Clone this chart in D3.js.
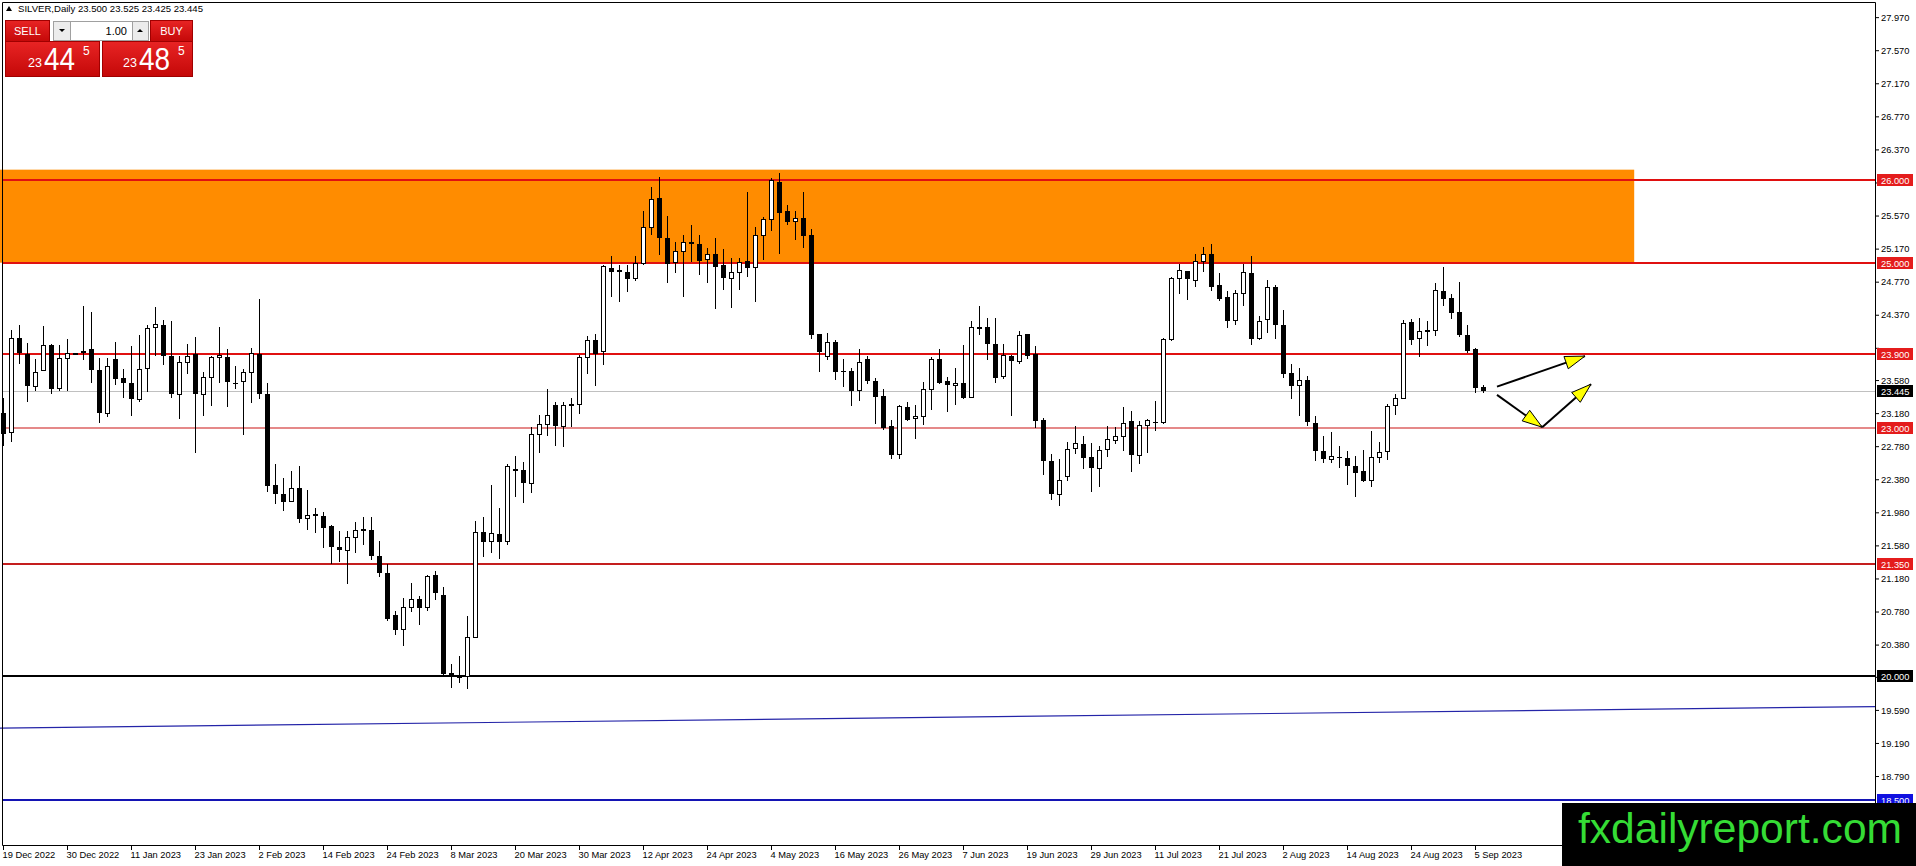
<!DOCTYPE html>
<html>
<head>
<meta charset="utf-8">
<script src="https://cdn.jsdelivr.net/npm/d3@7"></script>
<style>
  body { margin: 0; background: #fff; overflow: hidden; }
  svg { display: block; font-family: "Liberation Sans", Arial, sans-serif; }
</style>
</head>
<body>
<div id="chart"></div>
<script>
// SILVER daily, 19 Dec 2022 .. 6 Sep 2023 (one entry per bar)
const opens = [23.18,22.95,24.09,23.9,23.5,23.69,24.0,23.48,23.84,23.9,23.93,23.95,23.7,23.18,23.83,23.6,23.55,23.35,23.72,24.21,
  24.25,23.875,23.41,23.79,23.89,23.4,23.61,23.85,23.86,23.55,23.56,23.67,23.9,23.41,22.31,22.2,22.11,22.27,21.91,21.955,
  21.94,21.81,21.56,21.52,21.68,21.77,21.77,21.45,21.25,20.74,20.56,20.83,20.93,20.83,21.225,20.98,20.04,20.0,20.0,20.47,
  21.74,21.63,21.72,21.63,22.5,22.49,22.33,22.92,23.04,23.28,23.02,23.28,23.29,23.85,24.06,23.93,24.94,24.89,24.89,24.81,
  24.99,25.43,25.78,25.3,25.0,25.13,25.25,25.225,25.04,25.11,24.97,24.81,24.88,25.02,24.94,25.33,25.52,25.98,25.63,25.5,
  25.54,25.33,24.14,23.86,24.04,23.69,23.69,23.45,23.83,23.57,23.39,23.02,22.68,23.25,23.11,23.14,23.47,23.83,23.57,23.51,
  23.54,23.37,24.22,24.225,24.02,23.62,23.875,23.81,24.14,23.9,23.1,22.6,22.2,22.41,22.75,22.81,22.65,22.51,22.74,22.85,
  22.9,23.08,22.67,23.03,23.07,23.07,24.07,24.81,24.9,24.79,25.02,25.1,24.725,24.58,24.3,24.63,24.88,24.08,24.31,24.7,
  24.25,23.67,23.52,23.58,23.06,22.725,22.62,22.655,22.64,22.54,22.475,22.37,22.645,22.71,23.27,23.36,24.28,24.08,24.175,24.175,
  24.66,24.57,24.4,24.13,23.95,23.5];
const highs = [23.36,24.19,24.24,24.03,23.84,24.23,24.02,24.0,24.08,23.91,24.48,24.4,23.85,23.85,24.04,23.71,23.99,24.12,24.25,24.46,
  24.31,24.29,23.875,24.02,24.1,23.68,23.87,24.225,23.96,23.75,23.71,23.97,24.56,23.54,22.56,22.4,22.475,22.54,22.25,22.03,
  21.98,21.83,21.75,21.76,21.86,21.92,21.92,21.63,21.35,20.79,20.94,21.12,20.97,21.22,21.27,21.08,20.15,20.24,20.73,21.87,
  21.925,22.31,22.03,22.57,22.66,22.59,23.01,23.16,23.47,23.31,23.32,23.36,23.88,24.11,24.14,24.975,25.08,24.975,24.975,25.08,
  25.62,25.92,26.04,25.56,25.25,25.33,25.45,25.34,25.18,25.3,25.17,25.06,25.06,25.86,25.43,25.55,26.02,26.08,25.7,25.63,
  25.86,25.41,24.14,24.15,24.06,23.83,23.73,23.95,23.87,23.6,23.475,23.1,23.28,23.32,23.28,23.56,23.86,23.96,23.62,23.725,
  24.0,24.3,24.47,24.33,24.33,24.02,23.88,24.17,24.14,23.99,23.12,22.69,22.63,22.83,23.03,22.9,22.82,22.78,23.02,23.01,
  23.25,23.2,23.08,23.11,23.33,24.09,24.83,24.98,24.9,25.11,25.19,25.225,24.87,24.66,24.675,24.98,25.08,24.36,24.79,24.725,
  24.43,23.78,23.73,23.63,23.14,22.9,22.95,22.78,22.72,22.66,22.73,22.96,22.83,23.29,23.41,24.31,24.32,24.33,24.3,24.75,
  24.95,24.625,24.77,24.25,23.97,23.525];
const lows = [22.78,22.83,23.78,23.31,23.45,23.69,23.41,23.45,23.45,23.89,23.82,23.54,23.06,23.13,23.52,23.36,23.15,23.31,23.44,23.87,
  23.76,23.36,23.11,23.65,22.7,23.15,23.27,23.54,23.25,23.47,22.91,23.3,23.35,22.23,22.08,21.99,22.11,21.85,21.77,21.725,
  21.55,21.36,21.38,21.11,21.49,21.58,21.4,21.2,20.67,20.5,20.36,20.78,20.62,20.79,20.925,19.99,19.86,19.92,19.84,20.47,
  21.44,21.49,21.41,21.59,22.16,22.09,22.21,22.7,22.9,22.78,22.77,23.01,23.175,23.65,23.51,23.76,24.58,24.52,24.65,24.78,
  24.975,25.33,25.09,24.76,24.875,24.58,25.01,24.85,24.75,24.44,24.67,24.45,24.67,24.83,24.53,25.03,25.38,25.11,25.45,25.27,
  25.175,24.08,23.675,23.82,23.58,23.49,23.27,23.33,23.53,23.05,22.97,22.63,22.625,23.09,22.87,23.04,23.22,23.53,23.19,23.28,
  23.35,23.36,24.13,23.82,23.54,23.59,23.15,23.78,23.83,23.0,22.43,22.13,22.06,22.36,22.69,22.51,22.225,22.29,22.65,22.81,
  22.72,22.47,22.56,22.7,22.96,23.05,24.05,24.62,24.55,24.71,24.89,24.66,24.54,24.21,24.24,24.47,24.0,24.06,24.15,24.08,
  23.6,23.35,23.15,23.02,22.6,22.58,22.58,22.52,22.31,22.16,22.35,22.29,22.58,22.61,23.16,23.35,24.0,23.86,23.99,24.11,
  24.475,24.32,24.1,23.91,23.42,23.425];
const closes = [22.925,24.08,23.91,23.51,23.67,24.0,23.475,23.84,23.9,23.9,23.93,23.7,23.18,23.75,23.59,23.54,23.35,23.71,24.2,24.25,
  23.87,23.41,23.79,23.87,23.41,23.61,23.85,23.875,23.56,23.53,23.67,23.9,23.41,22.3,22.2,22.1,22.27,21.9,21.94,21.94,
  21.79,21.56,21.52,21.67,21.76,21.77,21.45,21.25,20.69,20.56,20.83,20.93,20.82,21.2,21.0,20.03,19.99,20.0,20.46,21.74,
  21.62,21.72,21.62,22.54,22.48,22.33,22.925,23.04,23.15,23.02,23.27,23.28,23.85,24.06,23.9,24.95,24.89,24.91,24.8,24.99,
  25.43,25.76,25.3,24.98,25.13,25.24,25.225,25.02,25.1,24.95,24.81,24.88,25.0,24.94,25.33,25.52,25.99,25.6,25.49,25.54,
  25.32,24.125,23.92,24.03,23.675,23.68,23.45,23.79,23.57,23.38,23.0,22.67,23.26,23.1,23.14,23.47,23.83,23.54,23.52,23.54,
  23.36,24.21,24.22,24.02,23.6,23.875,23.81,24.125,23.875,23.08,22.6,22.2,22.37,22.74,22.81,22.64,22.52,22.725,22.86,22.9,
  23.06,22.67,23.03,23.09,23.06,24.07,24.81,24.9,24.8,25.01,25.1,24.71,24.56,24.29,24.625,24.88,24.08,24.29,24.7,24.25,
  23.655,23.51,23.57,23.07,22.725,22.625,22.655,22.64,22.54,22.45,22.36,22.645,22.7,23.26,23.36,24.27,24.06,24.17,24.175,24.66,
  24.56,24.39,24.12,23.93,23.48,23.445];

const dateLabels = ["19 Dec 2022","30 Dec 2022","11 Jan 2023","23 Jan 2023","2 Feb 2023","14 Feb 2023","24 Feb 2023",
  "8 Mar 2023","20 Mar 2023","30 Mar 2023","12 Apr 2023","24 Apr 2023","4 May 2023","16 May 2023","26 May 2023",
  "7 Jun 2023","19 Jun 2023","29 Jun 2023","11 Jul 2023","21 Jul 2023","2 Aug 2023","14 Aug 2023","24 Aug 2023","5 Sep 2023"];
const priceTicks = [27.97,27.57,27.17,26.77,26.37,25.97,25.57,25.17,24.77,24.37,23.97,23.58,23.18,22.78,22.38,
  21.98,21.58,21.18,20.78,20.38,19.99,19.59,19.19,18.79,18.39];

// drawn objects (bar index, price)
const levels = [26.0, 25.0, 23.9, 23.0, 21.35, 20.0, 18.5];
const zone = [[-0.4, 26.125], [203.9, 25.0]];
const trendLine = [[-0.4, 19.37], [234, 19.63]];
const arrowUp = [[186.75, 23.5], [197.75, 23.87]];
const arrowDown = [[186.75, 23.4], [192.4, 23.01]];
const arrowBack = [[192.4, 23.01], [198.5, 23.53]];

const W = 1916, H = 866;
const axisX = 1875, axisY = 845;

const x = d3.scaleLinear().domain([0, 185]).range([3, 1483]);
const y = d3.scaleLinear().domain([18.5, 26]).range([800, 180]);

const svg = d3.select("#chart").append("svg")
  .attr("width", W).attr("height", H);

svg.append("rect").attr("width", W).attr("height", H).attr("fill", "#fff");

// orange zone
svg.append("rect")
  .attr("x", x(zone[0][0])).attr("y", y(zone[0][1]))
  .attr("width", x(zone[1][0]) - x(zone[0][0]))
  .attr("height", y(zone[1][1]) - y(zone[0][1]))
  .attr("fill", "#ff8c00");

// current price line
let last = closes[closes.length - 1];
svg.append("line")
  .attr("x1", 2).attr("x2", axisX)
  .attr("y1", Math.round(y(last)) + 0.5).attr("y2", Math.round(y(last)) + 0.5)
  .attr("stroke", "#c0c0c0");

// horizontal levels
let levelStyle = v => {
  if (v == 20) return { c: "#000", w: 2 };
  if (v == 18.5) return { c: "#1414b4", w: 2 };
  if (v == 23) return { c: "#cc1414", w: 1.2 };
  if (v == 21.35) return { c: "#c41e1e", w: 2 };
  return { c: "#e01010", w: 2 };
};
svg.append("g").selectAll("line")
  .data(levels)
  .enter()
  .append("line")
  .attr("x1", 2).attr("x2", axisX)
  .attr("y1", d => Math.round(y(d))).attr("y2", d => Math.round(y(d)))
  .attr("stroke", d => levelStyle(d).c)
  .attr("stroke-width", d => levelStyle(d).w);

// trend line
svg.append("line")
  .attr("x1", x(trendLine[0][0])).attr("y1", y(trendLine[0][1]))
  .attr("x2", x(trendLine[1][0])).attr("y2", y(trendLine[1][1]))
  .attr("stroke", "#2424a8").attr("stroke-width", 1.2);

// candles
const idx = d3.range(opens.length);
const cg = svg.append("g").attr("shape-rendering", "crispEdges");
cg.selectAll("line")
  .data(idx)
  .enter()
  .append("line")
  .attr("x1", i => Math.round(x(i)) + 0.5)
  .attr("x2", i => Math.round(x(i)) + 0.5)
  .attr("y1", i => y(highs[i]))
  .attr("y2", i => y(lows[i]))
  .attr("stroke", "#000");
cg.selectAll("rect")
  .data(idx)
  .enter()
  .append("rect")
  .attr("x", i => Math.round(x(i)) - (closes[i] >= opens[i] ? 1.5 : 2))
  .attr("width", i => (closes[i] >= opens[i] ? 4 : 5))
  .attr("y", i => y(Math.max(opens[i], closes[i])))
  .attr("height", i => Math.max(1, Math.abs(y(opens[i]) - y(closes[i]))))
  .attr("fill", i => (closes[i] >= opens[i] ? "#fff" : "#000"))
  .attr("stroke", i => (closes[i] >= opens[i] ? "#000" : "none"));

// arrows
let drawArrow = (pts, head) => {
  let x1 = x(pts[0][0]), y1 = y(pts[0][1]), x2 = x(pts[1][0]), y2 = y(pts[1][1]);
  svg.append("line").attr("x1", x1).attr("y1", y1).attr("x2", x2).attr("y2", y2)
    .attr("stroke", "#000").attr("stroke-width", 2);
  if (!head) return;
  let a = Math.atan2(y2 - y1, x2 - x1);
  let len = 20, wd = 6.5;
  let bx = x2 - len * Math.cos(a), by = y2 - len * Math.sin(a);
  let p = [[x2, y2],
    [bx + wd * Math.sin(a), by - wd * Math.cos(a)],
    [bx - wd * Math.sin(a), by + wd * Math.cos(a)]];
  svg.append("path").attr("d", d3.line()(p) + "Z")
    .attr("fill", "#ffff00").attr("stroke", "#000").attr("stroke-width", 1);
};
drawArrow(arrowUp, true);
drawArrow(arrowDown, true);
drawArrow(arrowBack, true);

// frame
svg.append("path")
  .attr("d", `M2.5,${axisY + 0.5}V2.5H${axisX + 0.5}V${axisY + 0.5}H2.5`)
  .attr("fill", "none").attr("stroke", "#000");

// date axis
let xAxis = d3.axisBottom(x)
  .tickValues(d3.range(0, 185, 8))
  .tickFormat((d, i) => dateLabels[i])
  .tickSize(5).tickSizeOuter(0);
let gx = svg.append("g").attr("transform", `translate(0,${axisY})`).call(xAxis);
gx.select(".domain").remove();
gx.selectAll("text")
  .attr("text-anchor", "start").attr("x", -1).attr("y", 13).attr("dy", 0)
  .attr("font-size", "9.3px").attr("font-family", "'Liberation Sans', Arial, sans-serif")
  .attr("fill", "#000");

// price axis; labels that sit under a price tag are left blank
let hidden = v => levels.some(l => Math.abs(l - v) < 0.12);
let yAxis = d3.axisRight(y)
  .tickValues(priceTicks)
  .tickFormat(d => (hidden(d) ? "" : d3.format(".3f")(d)))
  .tickSize(4).tickSizeOuter(0);
let gy = svg.append("g").attr("transform", `translate(${axisX},0)`).call(yAxis);
gy.select(".domain").remove();
gy.selectAll("text")
  .attr("x", 6).attr("dy", "0.34em")
  .attr("font-size", "9.3px").attr("font-family", "'Liberation Sans', Arial, sans-serif")
  .attr("fill", "#000");
gy.selectAll(".tick").filter(d => hidden(d)).select("text").remove();

// price tags on the axis
let tagColor = v => (v == 20 || v == last ? "#000" : v == 18.5 ? "#1010e0" : "#e41c1c");
let tags = svg.append("g").selectAll("g")
  .data(levels.concat([last]))
  .enter()
  .append("g")
  .attr("transform", d => `translate(${axisX + 2},${Math.round(y(d))})`);
tags.append("rect")
  .attr("x", 0).attr("y", -6).attr("width", 36).attr("height", 12)
  .attr("fill", d => tagColor(d));
tags.append("text")
  .attr("x", 4).attr("y", 3.5)
  .attr("font-size", "9.3px").attr("fill", "#fff")
  .text(d => d3.format(".3f")(d));

// logo
svg.append("rect").attr("x", 1562).attr("y", 803).attr("width", W - 1562).attr("height", H - 803)
  .attr("fill", "#000");
svg.append("text").attr("x", 1578).attr("y", 843)
  .attr("font-size", "42px").attr("fill", "#35dc35")
  .attr("textLength", 324).attr("lengthAdjust", "spacingAndGlyphs")
  .text("fxdailyreport.com");

// header + one click trading panel
svg.append("path").attr("d", "M6,11L9,6L12,11Z").attr("fill", "#000");
svg.append("text").attr("x", 18).attr("y", 12)
  .attr("font-size", "9.6px").attr("fill", "#000")
  .attr("textLength", 185).attr("lengthAdjust", "spacingAndGlyphs")
  .text("SILVER,Daily  23.500 23.525 23.425 23.445");

let defs = svg.append("defs");
let grad = defs.append("linearGradient").attr("id", "red").attr("x1", 0).attr("y1", 0).attr("x2", 0).attr("y2", 1);
grad.append("stop").attr("offset", "0%").attr("stop-color", "#e82424");
grad.append("stop").attr("offset", "100%").attr("stop-color", "#c40808");

let panel = svg.append("g");
let box = (bx, by, bw, bh, fill, stroke) =>
  panel.append("rect").attr("x", bx + 0.5).attr("y", by + 0.5).attr("width", bw).attr("height", bh)
    .attr("fill", fill).attr("stroke", stroke);
box(5, 20, 44, 21, "url(#red)", "#a00000");
box(150, 20, 42, 21, "url(#red)", "#a00000");
box(53, 21, 17, 19, "#ececec", "#a0a0a0");
box(70, 21, 62, 19, "#fff", "#a0a0a0");
box(132, 21, 16, 19, "#ececec", "#a0a0a0");
box(5, 41, 94, 35, "url(#red)", "#a00000");
box(102, 41, 90, 35, "url(#red)", "#a00000");
panel.append("path").attr("d", "M59,29L65,29L62,32Z").attr("fill", "#000");
panel.append("path").attr("d", "M137,32L143,32L140,29Z").attr("fill", "#000");
panel.append("text").attr("x", 127).attr("y", 35).attr("text-anchor", "end")
  .attr("font-size", "11px").attr("fill", "#000").text("1.00");
panel.append("text").attr("x", 27.5).attr("y", 35).attr("text-anchor", "middle")
  .attr("font-size", "11px").attr("fill", "#fff").text("SELL");
panel.append("text").attr("x", 171.5).attr("y", 35).attr("text-anchor", "middle")
  .attr("font-size", "11px").attr("fill", "#fff").text("BUY");

let quote = (qx, big) => {
  panel.append("text").attr("x", qx).attr("y", 67).attr("font-size", "12.5px").attr("fill", "#fff").text("23");
  panel.append("text").attr("x", qx + 16).attr("y", 70).attr("font-size", "32px").attr("fill", "#fff")
    .attr("textLength", 31).attr("lengthAdjust", "spacingAndGlyphs").text(big);
  panel.append("text").attr("x", qx + 55).attr("y", 55).attr("font-size", "12px").attr("fill", "#fff").text("5");
};
quote(28, "44");
quote(123, "48");
</script>
</body>
</html>
